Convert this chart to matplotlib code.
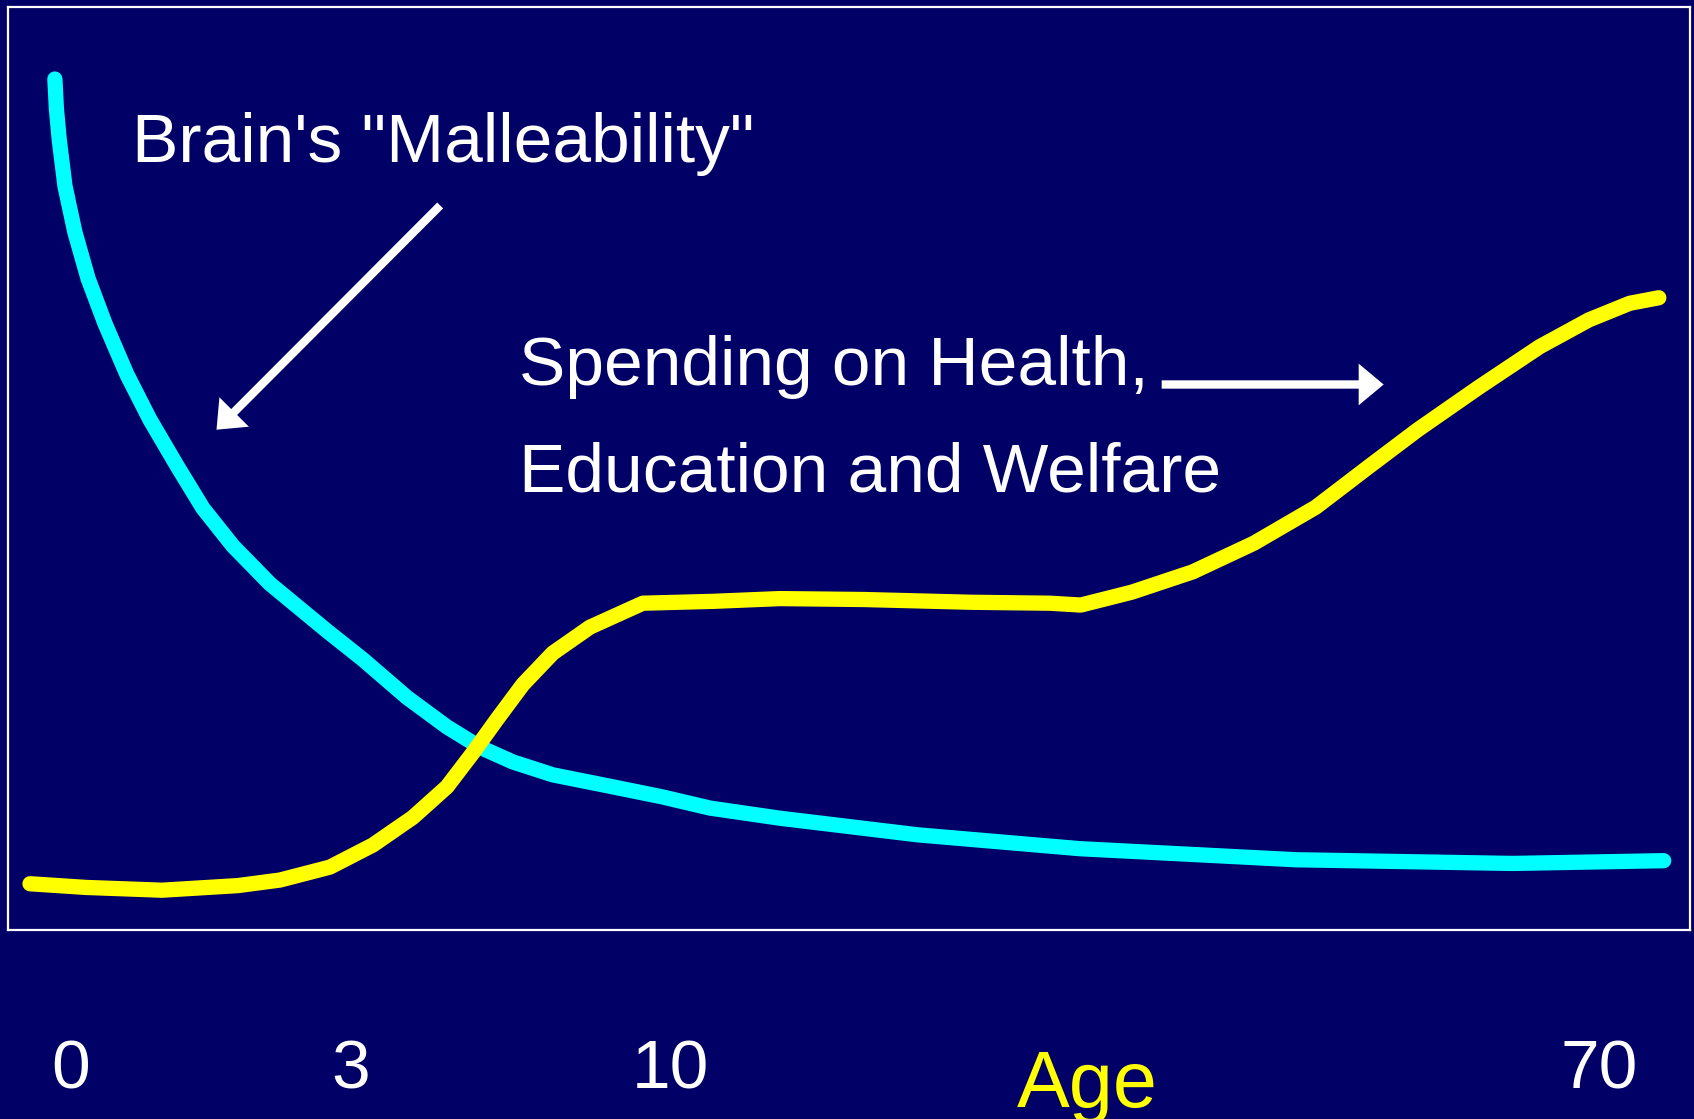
import matplotlib
matplotlib.use("Agg")
import matplotlib.pyplot as plt

plt.rcParams['font.family'] = ['Liberation Sans', 'DejaVu Sans']

# curves (x: position across the box 0-100, y: level 0-100)
malle_x = [2.79, 2.88, 3.05, 3.39, 3.98, 4.76, 5.77, 7.07, 8.44, 10.05, 11.59, 13.38, 15.58,
           18.97, 21.11, 23.72, 26.10, 28.06, 30.02, 32.40, 35.97, 38.94, 41.74, 45.90,
           54.10, 63.73, 76.58, 89.48, 98.45]
malle_y = [92.2, 89.0, 85.6, 80.6, 75.6, 70.6, 65.7, 60.2, 55.3, 50.3, 45.7, 41.6, 37.5,
           32.4, 29.3, 25.2, 22.0, 19.8, 18.2, 16.8, 15.5, 14.4, 13.2, 12.1,
           10.3, 8.8, 7.6, 7.2, 7.5]

spend_x = [1.31, 4.64, 9.16, 13.67, 16.17, 19.14, 21.70, 24.08, 26.10, 27.65, 29.07, 30.62,
           32.40, 34.60, 37.75, 41.91, 45.90, 50.89, 57.31, 61.95, 63.79, 66.83, 70.45,
           74.08, 77.76, 80.92, 83.83, 87.46, 91.08, 94.00, 96.43, 98.16]
spend_y = [5.0, 4.6, 4.3, 4.8, 5.4, 6.8, 9.2, 12.2, 15.5, 19.2, 22.8, 26.6,
           30.0, 32.8, 35.4, 35.6, 35.9, 35.8, 35.5, 35.4, 35.2, 36.6, 38.8,
           41.9, 45.8, 50.2, 54.2, 58.8, 63.2, 66.1, 67.9, 68.5]

age_pos = [3.7, 20.4, 39.4, 94.6]
age_labels = ["0", "3", "10", "70"]

bg = "#000066"
fig = plt.figure(figsize=(16.94, 11.19), dpi=100, facecolor=bg)
ax = fig.add_axes([0.0047, 0.169, 0.9928, 0.8247])
ax.set_facecolor(bg)
ax.set_xlim(0, 100)
ax.set_ylim(0, 100)

ax.plot(malle_x, malle_y, color="#00FFFF", lw=11, solid_capstyle="round", solid_joinstyle="round")
ax.plot(spend_x, spend_y, color="#FFFF00", lw=11, solid_capstyle="round", solid_joinstyle="round")

for s in ax.spines.values():
    s.set_color("white")
    s.set_linewidth(1.6)

ax.set_yticks([])
ax.set_xticks(age_pos)
ax.set_xticklabels(age_labels)
ax.tick_params(axis="x", length=0, pad=78, labelsize=50, labelcolor="white")

ax.text(7.36, 83.2, "Brain's \"Malleability\"", color="white", fontsize=50, va="baseline")
ax.text(30.4, 59.0, "Spending on Health,", color="white", fontsize=50, va="baseline")
ax.text(30.4, 47.5, "Education and Welfare", color="white", fontsize=50, va="baseline")
ax.text(64.2, -19.2, "Age", color="#FFFF00", fontsize=57, va="baseline", ha="center", clip_on=False)

arw = dict(facecolor="white", edgecolor="none", width=6, headwidth=30, headlength=18, shrink=0)
ax.annotate("", xy=(12.4, 54.2), xytext=(25.7, 78.5), arrowprops=arw)
ax.annotate("", xy=(81.8, 59.1), xytext=(68.6, 59.1), arrowprops=arw)

fig.savefig("out.png", dpi=100, facecolor=bg)
